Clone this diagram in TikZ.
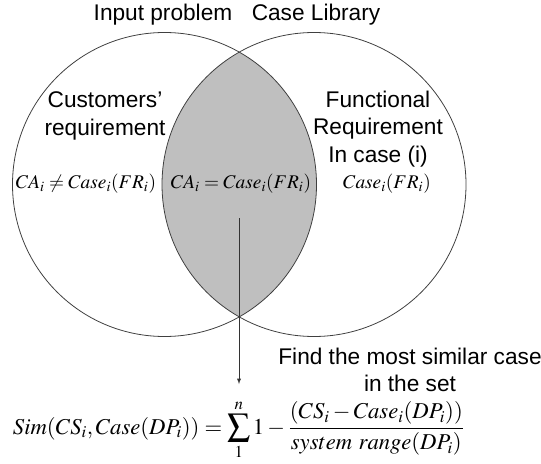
\documentclass[tikz,border=0pt]{standalone}
\usepackage{mathptmx}
\usepackage{fontspec}
\setmainfont{Liberation Sans}
\usetikzlibrary{
  arrows
}

\begin{document}
\begin{tikzpicture}[x=0.75pt,y=-0.75pt,
    every node/.style = {align=center, inner sep=0pt,
      font=\fontsize{17}{20.5}\selectfont},
    venn/.style = {draw=black!75, line width=0.6pt},
    lens/.style = {fill=black!25},
    setmath/.style = {font=\fontsize{14.5}{17}\selectfont}]
  \useasboundingbox (0,0) rectangle (541,463);
  \coordinate (cl) at (164.5,184.5);
  \coordinate (cr) at (314,184.5);
  % shaded overlap
  \begin{scope}
    \clip (cl) circle [radius=152];
    \fill[lens] (cr) circle [radius=152];
  \end{scope}
  \draw[venn] (cl) circle [radius=152];
  \draw[venn] (cr) circle [radius=152];
  % labels
  \node (inp) at (163,15) {Input problem};
  \node (lib) at (316,15) {Case Library};
  \node (cust) at (105,116) {Customers'\\requirement};
  \node (func) at (378,129) {Functional\\Requirement\\In case (i)};
  \node[setmath] (lft) at (86,184) {$CA_i \neq Case_i(FR_i)$};
  \node[setmath] (mid) at (241,184) {$CA_i = Case_i(FR_i)$};
  \node[setmath] (rgt) at (387,184) {$Case_i(FR_i)$};
  \node (find) at (410,370) {Find the most similar case\\in the set};
  \node (sim) at (238.6,430)
    {$\displaystyle Sim(CS_i, Case(DP_i)) = \sum_1^n 1 - \frac{(CS_i - Case_i(DP_i))}{system\ range(DP_i)}$};
  \coordinate (src) at (239,218);
  \draw[-latex, black!80, shorten >=12pt] (src) -- (src |- sim.north);
\end{tikzpicture}
\end{document}
